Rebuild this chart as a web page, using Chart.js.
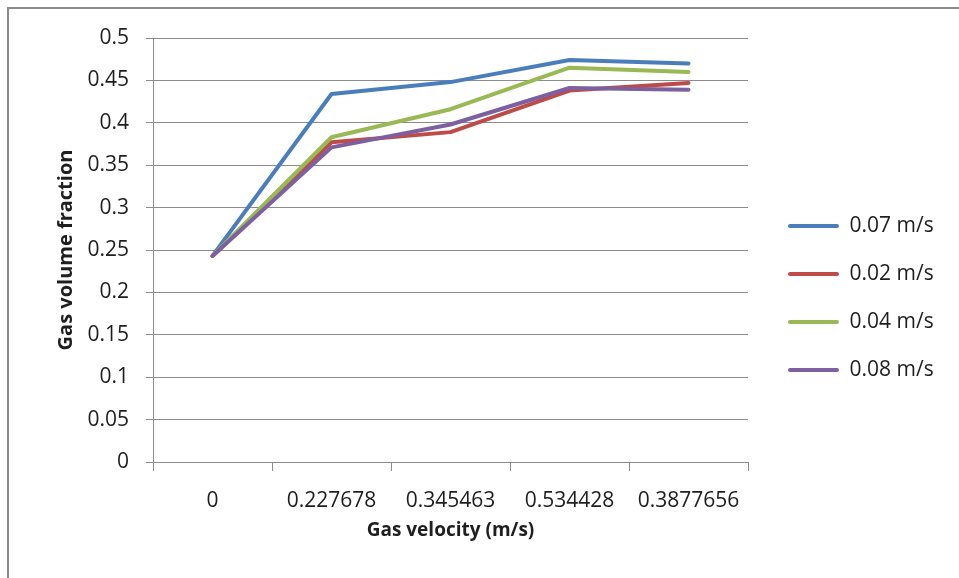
<!DOCTYPE html>
<html>
<head>
<meta charset="utf-8">
<script src="https://cdn.jsdelivr.net/npm/chart.js@4"></script>
<style>
  html, body { margin: 0; padding: 0; background: #ffffff; }
  #frame {
    position: absolute; left: 7px; top: 7px; width: 980px; height: 600px;
    border-left: 2px solid #8a8a8a; border-top: 2px solid #8a8a8a;
  }
  #chart { position: absolute; left: 0; top: 0; }
</style>
</head>
<body>
<div id="frame"></div>
<canvas id="chart" width="959" height="578"></canvas>
<script>
// Gas velocity categories (m/s) along the x axis
const categories = ['0', '0.227678', '0.345463', '0.534428', '0.3877656'];

// Gas volume fraction for each liquid velocity
const series007 = [0.243, 0.434, 0.448, 0.474, 0.470];
const series002 = [0.243, 0.377, 0.389, 0.438, 0.447];
const series004 = [0.243, 0.383, 0.416, 0.465, 0.460];
const series008 = [0.243, 0.371, 0.398, 0.441, 0.439];

const seriesNames = ['0.07 m/s', '0.02 m/s', '0.04 m/s', '0.08 m/s'];
const seriesColors = ['#4a7ebb', '#be4b48', '#98b954', '#7d60a0'];

const fontFamily = "'Open Sans', 'Liberation Sans', sans-serif";
const gridColor = '#8c8c8c';
const textColor = '#1e1e1e';
const labelSize = 21;

Chart.defaults.font.family = fontFamily;
Chart.defaults.color = textColor;

// Legend geometry: sample width (with a blank lead-in), gap between entries
const legendSample = 64;
const legendLeadIn = 13;
const legendGap = 27;
const plotRight = 748;

// Legend samples: a short thick line, drawn after a blank lead-in
const legendImages = seriesColors.map(color => {
  const c = document.createElement('canvas');
  c.width = legendSample; c.height = 8;
  const g = c.getContext('2d');
  g.strokeStyle = color; g.lineWidth = 4; g.lineCap = 'round';
  g.beginPath(); g.moveTo(legendLeadIn + 2, 4); g.lineTo(legendSample - 2, 4); g.stroke();
  return c;
});

// Width the legend will ask for, so the plot keeps its right edge
const measureCtx = document.createElement('canvas').getContext('2d');
measureCtx.font = labelSize + 'px ' + fontFamily;
const widest = Math.max(...seriesNames.map(n => measureCtx.measureText(n).width));
const legendWidth = legendGap + legendSample + labelSize / 2 + widest + 10;
const rightPad = Math.max(0, 959 - plotRight - legendWidth);

function lineSet(i, values) {
  return {
    label: seriesNames[i],
    data: values,
    borderColor: seriesColors[i],
    backgroundColor: seriesColors[i],
    borderWidth: 4,
    pointRadius: 0,
    pointHoverRadius: 0,
    tension: 0,
    borderCapStyle: 'round',
    borderJoinStyle: 'round',
    order: 3 - i
  };
}

new Chart(document.getElementById('chart'), {
  type: 'line',
  data: {
    labels: categories,
    datasets: [
      lineSet(0, series007),
      lineSet(1, series002),
      lineSet(2, series004),
      lineSet(3, series008)
    ]
  },
  options: {
    responsive: false,
    animation: false,
    devicePixelRatio: 1,
    layout: { padding: { left: 40, top: 38, right: rightPad, bottom: 20 } },
    plugins: {
      tooltip: { enabled: false },
      legend: {
        position: 'right',
        labels: {
          usePointStyle: true,
          pointStyleWidth: legendSample,
          padding: legendGap,
          color: textColor,
          font: { size: labelSize },
          sort: (a, b) => a.datasetIndex - b.datasetIndex,
          generateLabels: (chart) =>
            Chart.defaults.plugins.legend.labels.generateLabels(chart).map(l => ({
              ...l, pointStyle: legendImages[l.datasetIndex], lineWidth: 0
            }))
        }
      }
    },
    scales: {
      x: {
        type: 'category',
        offset: true,
        grid: { offset: true, drawOnChartArea: false, drawTicks: true, tickLength: 9, color: gridColor },
        border: { color: gridColor, width: 1 },
        ticks: { font: { size: labelSize }, color: textColor, padding: 17, maxRotation: 0, autoSkip: false },
        title: {
          display: true, text: 'Gas velocity (m/s)', color: textColor,
          font: { size: 19, weight: 'bold' }, padding: { top: 0, bottom: 16 }
        },
        afterFit: (s) => { s.height = 96; }
      },
      y: {
        min: 0, max: 0.5,
        ticks: {
          stepSize: 0.05, font: { size: labelSize }, color: textColor, padding: 17,
          callback: (v) => String(Math.round(v * 100) / 100)
        },
        grid: { color: gridColor, tickLength: 7 },
        border: { color: gridColor, width: 1 },
        title: {
          display: true, text: 'Gas volume fraction', color: textColor,
          font: { size: 20, weight: 'bold' }, padding: { top: 14, bottom: 0 }
        },
        afterFit: (s) => { s.width = 113; }
      }
    }
  }
});
</script>
</body>
</html>
